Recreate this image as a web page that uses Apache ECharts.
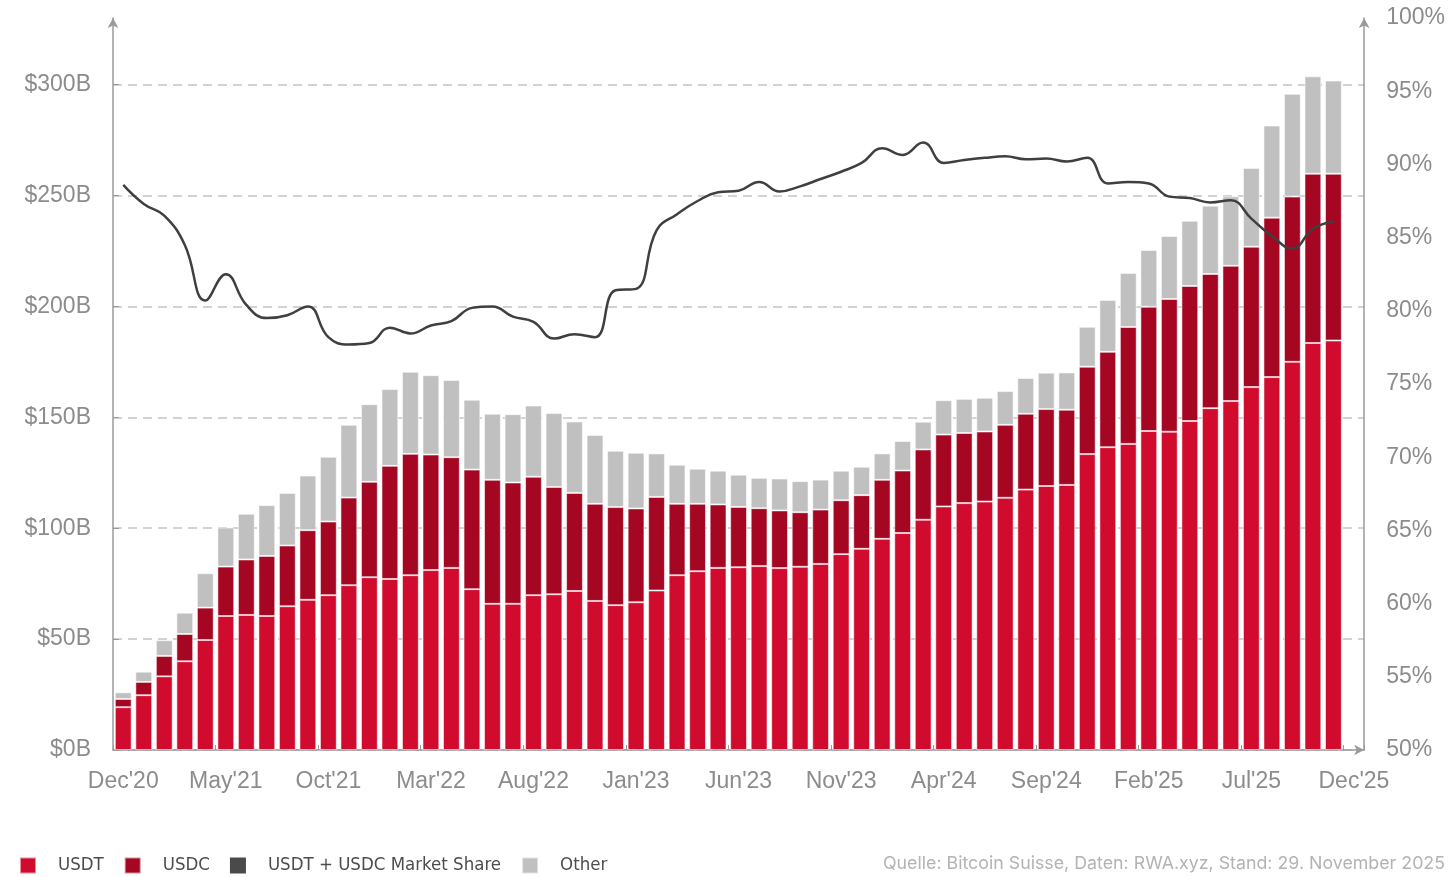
<!DOCTYPE html>
<html>
<head>
<meta charset="utf-8">
<script src="https://cdn.jsdelivr.net/npm/echarts@6/dist/echarts.min.js"></script>
<style>
  html, body { margin: 0; padding: 0; background: #fff; }
  #chart { width: 1448px; height: 877px; }
</style>
</head>
<body>
<div id="chart"></div>
<script>
// Monate (Dec'25 bleibt leer, nur Achsenbeschriftung)
const months = [
  "Dec'20", "Jan'21", "Feb'21", "Mar'21", "Apr'21", "May'21", "Jun'21", "Jul'21", "Aug'21", "Sep'21", "Oct'21", "Nov'21",
  "Dec'21", "Jan'22", "Feb'22", "Mar'22", "Apr'22", "May'22", "Jun'22", "Jul'22", "Aug'22", "Sep'22", "Oct'22", "Nov'22",
  "Dec'22", "Jan'23", "Feb'23", "Mar'23", "Apr'23", "May'23", "Jun'23", "Jul'23", "Aug'23", "Sep'23", "Oct'23", "Nov'23",
  "Dec'23", "Jan'24", "Feb'24", "Mar'24", "Apr'24", "May'24", "Jun'24", "Jul'24", "Aug'24", "Sep'24", "Oct'24", "Nov'24",
  "Dec'24", "Jan'25", "Feb'25", "Mar'25", "Apr'25", "May'25", "Jun'25", "Jul'25", "Aug'25", "Sep'25", "Oct'25", "Nov'25",
  "Dec'25"
];

// Werte in Mrd. USD
const usdt = [
  19.3, 24.7, 33.2, 40.0, 49.6, 60.4, 60.9, 60.4, 64.8, 67.7, 69.8, 74.3,
  77.9, 77.1, 78.8, 81.1, 82.1, 72.5, 65.9, 65.9, 69.8, 70.2, 71.7, 67.2,
  65.3, 66.6, 71.9, 78.8, 80.6, 82.1, 82.4, 82.9, 82.0, 82.6, 83.9, 88.3,
  90.7, 95.2, 97.8, 103.8, 109.8, 111.3, 112.0, 113.7, 117.4, 119.0, 119.5, 133.4,
  136.5, 138.0, 143.8, 143.5, 148.3, 154.1, 157.3, 163.6, 168.1, 175.0, 183.5, 184.6
];
const usdc = [
  3.7, 6.0, 9.2, 12.3, 14.6, 22.3, 25.0, 27.1, 27.4, 31.4, 33.2, 39.5,
  43.0, 51.0, 54.7, 52.1, 49.9, 53.9, 55.9, 54.7, 53.4, 48.4, 44.2, 43.8,
  44.2, 42.3, 42.2, 32.2, 30.4, 28.6, 27.2, 26.1, 26.0, 24.6, 24.5, 24.3,
  24.2, 26.6, 28.2, 31.7, 32.4, 31.6, 31.6, 32.9, 34.2, 34.7, 33.9, 39.4,
  43.0, 52.7, 56.0, 59.8, 60.9, 60.5, 61.0, 63.3, 71.9, 74.5, 76.3, 75.2
];
const other = [
  3.0, 4.6, 7.1, 9.6, 15.5, 17.6, 20.6, 22.9, 23.7, 24.6, 29.2, 32.8,
  35.0, 34.6, 37.0, 35.8, 34.8, 31.5, 29.8, 30.8, 32.1, 33.3, 32.2, 31.0,
  25.4, 25.1, 19.6, 17.6, 15.8, 15.2, 14.5, 13.7, 14.4, 14.0, 13.5, 13.3,
  12.8, 11.9, 13.3, 12.5, 15.5, 15.4, 15.2, 15.2, 16.1, 16.4, 16.8, 18.0,
  23.4, 24.3, 25.6, 28.4, 29.4, 30.8, 31.3, 35.5, 41.5, 46.3, 43.9, 42.0
];
// Marktanteil USDT + USDC in %
const share = [
  88.6, 87.3, 86.5, 84.5, 80.7, 82.5, 80.4, 79.5, 79.7, 80.3, 78.2, 77.7,
  77.8, 78.85, 78.45, 79.0, 79.3, 80.2, 80.3, 79.6, 79.25, 78.1, 78.4, 78.2,
  81.4, 81.5, 85.5, 86.6, 87.5, 88.1, 88.2, 88.8, 88.15, 88.5, 89.0, 89.5,
  90.1, 91.1, 90.65, 91.5, 90.1, 90.3, 90.45, 90.55, 90.35, 90.4, 90.2, 90.45,
  88.7, 88.8, 88.7, 87.8, 87.7, 87.4, 87.55, 86.3, 85.1, 84.25, 85.6, 86.1
];

const axisGray = '#9a9a9a';
const labelStyle = { color: '#8c8c8c', fontSize: 23, fontFamily: 'Liberation Sans, Arial, sans-serif' };

const chart = echarts.init(document.getElementById('chart'));

const barItem = (color) => ({ color: color, borderColor: 'rgba(255,255,255,0.55)', borderWidth: 1 });

chart.setOption({
  animation: false,
  backgroundColor: '#fff',
  grid: { left: 113, right: 81, top: 18, bottom: 127, containLabel: false },
  legend: {
    left: 14,
    top: 851,
    icon: 'rect',
    itemWidth: 16,
    itemHeight: 16,
    itemGap: 20,
    data: ['USDT', 'USDC', 'USDT + USDC Market Share', 'Other'],
    textStyle: {
      color: '#4d4d4d',
      fontSize: 18.5,
      fontWeight: 500,
      fontFamily: 'Liberation Sans Narrow, DejaVu Sans Condensed, sans-serif',
      padding: [2, 0, 0, 17]
    }
  },
  graphic: [{
    type: 'text',
    right: 3,
    top: 855,
    style: {
      text: 'Quelle: Bitcoin Suisse, Daten: RWA.xyz, Stand: 29. November 2025',
      fill: '#b3b3b3',
      fontSize: 17.8,
      fontFamily: 'Inter, sans-serif'
    }
  }],
  xAxis: {
    type: 'category',
    data: months,
    boundaryGap: true,
    axisLine: { lineStyle: { color: axisGray, width: 1.5 }, symbol: ['none', 'arrow'], symbolSize: [8, 10] },
    axisTick: { show: true, inside: true, length: 5, interval: 4, lineStyle: { color: axisGray } },
    axisLabel: Object.assign({ interval: 4, margin: 20 }, labelStyle),
    splitLine: { show: false }
  },
  yAxis: [{
    type: 'value',
    min: 0,
    max: 330,
    interval: 50,
    axisLine: { show: true, lineStyle: { color: axisGray, width: 1.5 }, symbol: ['none', 'arrow'], symbolSize: [8, 10] },
    axisTick: { show: true, inside: true, length: 6, lineStyle: { color: axisGray } },
    axisLabel: Object.assign({ margin: 22, showMaxLabel: false, formatter: '${value}B' }, labelStyle),
    splitLine: { show: true, showMaxLine: false, lineStyle: { color: '#c4c4c4', width: 1.5, type: [9, 6] } }
  }, {
    type: 'value',
    min: 50,
    max: 100,
    interval: 5,
    position: 'right',
    axisLine: { show: true, lineStyle: { color: axisGray, width: 1.5 }, symbol: ['none', 'arrow'], symbolSize: [8, 10] },
    axisTick: { show: false },
    axisLabel: Object.assign({ margin: 22, formatter: '{value}%' }, labelStyle),
    splitLine: { show: false }
  }],
  series: [{
    name: 'USDT',
    type: 'bar',
    stack: 'total',
    barWidth: '82%',
    data: usdt,
    itemStyle: barItem('#D00B2E')
  }, {
    name: 'USDC',
    type: 'bar',
    stack: 'total',
    data: usdc,
    itemStyle: barItem('#A50622')
  }, {
    name: 'USDT + USDC Market Share',
    type: 'line',
    yAxisIndex: 1,
    data: share,
    smooth: 0.45,
    showSymbol: false,
    symbol: 'none',
    z: 5,
    itemStyle: { color: '#4a4a4a' },
    lineStyle: { color: '#3f3f3f', width: 2.5 }
  }, {
    name: 'Other',
    type: 'bar',
    stack: 'total',
    data: other,
    itemStyle: barItem('#C0C0C0')
  }]
});
</script>
</body>
</html>
